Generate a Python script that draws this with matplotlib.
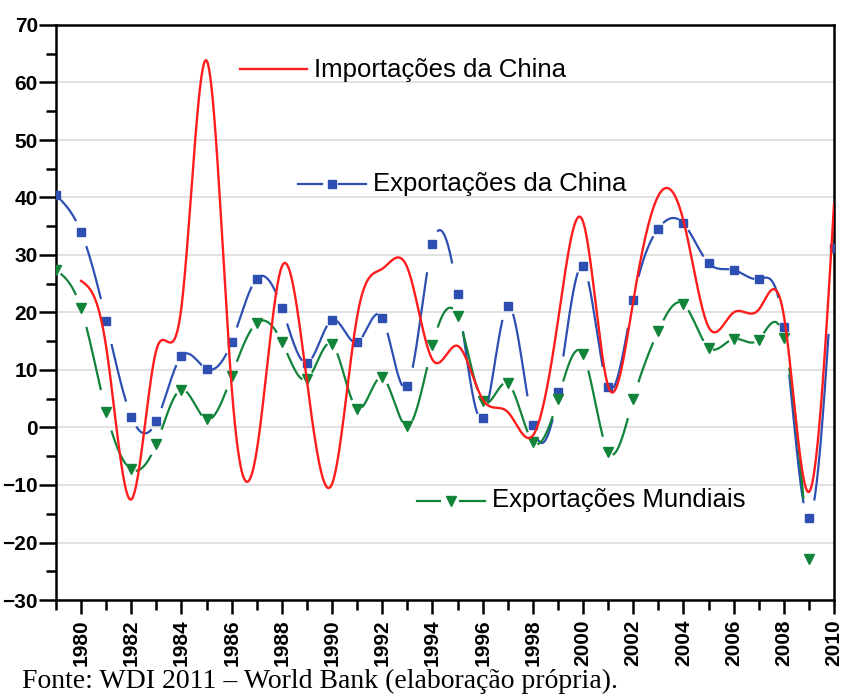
import numpy as np
import matplotlib.pyplot as plt
from matplotlib.ticker import MultipleLocator

years_red = list(range(1980, 2011))
years = list(range(1979, 2011))
years_world = list(range(1979, 2010))

# Importações da China (%)
imp_china = [25.5, 14.0, -12.5, 13.5, 21.0, 63.8, 7.0, -4.0, 28.0, 8.0,
             -9.8, 19.3, 27.6, 27.8, 11.8, 14.2, 4.9, 2.7, -1.4, 18.5,
             35.8, 7.2, 22.0, 40.3, 36.0, 17.5, 20.0, 20.5, 19.5, -11.2, 38.8]
# Exportações da China (%)
exp_china = [40.4, 34.0, 18.5, 1.9, 1.1, 12.4, 10.2, 14.9, 25.9, 20.8,
             11.2, 18.7, 14.8, 19.1, 7.2, 31.9, 23.2, 1.6, 21.1, 0.5,
             6.2, 28.0, 7.1, 22.2, 34.6, 35.5, 28.6, 27.4, 25.8, 17.4, -15.8, 31.3]
# Exportações Mundiais (%)
exp_world = [27.4, 20.7, 2.7, -7.3, -2.8, 6.6, 1.4, 9.0, 18.2, 14.9,
             8.4, 14.5, 3.3, 8.7, 0.2, 14.3, 19.4, 4.6, 7.7, -2.5,
             4.9, 12.7, -4.2, 4.9, 16.8, 21.5, 13.9, 15.4, 15.3, 15.5, -22.9]

RED = "#ff1c1c"
BLUE = "#2d4fb2"
GREEN = "#11843a"


def natural_spline(x, y, xs):
    x = np.asarray(x, float)
    y = np.asarray(y, float)
    n = len(x)
    h = np.diff(x)
    A = np.zeros((n, n))
    b = np.zeros(n)
    A[0, 0] = 1
    A[-1, -1] = 1
    for i in range(1, n - 1):
        A[i, i - 1] = h[i - 1]
        A[i, i] = 2 * (h[i - 1] + h[i])
        A[i, i + 1] = h[i]
        b[i] = 6 * ((y[i + 1] - y[i]) / h[i] - (y[i] - y[i - 1]) / h[i - 1])
    M = np.linalg.solve(A, b)
    idx = np.clip(np.searchsorted(x, xs) - 1, 0, n - 2)
    x0, x1 = x[idx], x[idx + 1]
    hh = x1 - x0
    t0 = x1 - xs
    t1 = xs - x0
    return (M[idx] * t0 ** 3 / (6 * hh) + M[idx + 1] * t1 ** 3 / (6 * hh)
            + (y[idx] / hh - M[idx] * hh / 6) * t0
            + (y[idx + 1] / hh - M[idx + 1] * hh / 6) * t1)


def gapped(x, y, gap=0.22):
    xs_all, ys_all = [], []
    for i in range(len(x) - 1):
        xs = np.linspace(x[i] + gap, x[i + 1] - gap, 40)
        xs_all += list(xs) + [np.nan]
        ys_all += list(natural_spline(x, y, xs)) + [np.nan]
    return xs_all, ys_all


fig = plt.figure(figsize=(8.43, 6.98), dpi=100)
ax = fig.add_axes([56 / 843, 1 - 600 / 698, 778 / 843, 575 / 698])

ax.set_xlim(1979, 2010)
ax.set_ylim(-30, 70)
ax.yaxis.set_major_locator(MultipleLocator(10))
ax.yaxis.set_minor_locator(MultipleLocator(5))
ax.xaxis.set_major_locator(MultipleLocator(2))
ax.xaxis.set_minor_locator(MultipleLocator(1))
ax.grid(axis="y", which="major", color="#dedede", lw=1.3, zorder=0)
ax.set_axisbelow(True)

bx, by = gapped(years, exp_china)
ax.plot(bx, by, color=BLUE, lw=1.6, zorder=2)
ax.plot(years, exp_china, ls="none", marker="s", ms=6, color=BLUE, zorder=3)

gx, gy = gapped(years_world, exp_world)
ax.plot(gx, gy, color=GREEN, lw=1.6, zorder=2)
ax.plot(years_world, exp_world, ls="none", marker="v", ms=7, color=GREEN, zorder=3)

rx = np.linspace(years_red[0], years_red[-1], 1500)
ax.plot(rx, natural_spline(years_red, imp_china, rx), color=RED, lw=1.7, zorder=4)

ax.set_xticks(range(1980, 2011, 2))
ax.set_xticklabels([str(y) for y in range(1980, 2011, 2)], rotation=90)
for lab in ax.get_xticklabels() + ax.get_yticklabels():
    lab.set_fontfamily("Liberation Sans")
    lab.set_fontweight("bold")
    lab.set_fontsize(15)
ax.tick_params(axis="y", which="major", length=12, width=1.8, pad=1)
ax.tick_params(axis="y", which="minor", length=7, width=1.8)
ax.tick_params(axis="x", which="major", length=10, width=1.8, pad=4)
ax.tick_params(axis="x", which="minor", length=7, width=1.8)
for s in ax.spines.values():
    s.set_linewidth(1.8)


def px(xp, yp):
    return (xp - 56) / 778, (600 - yp) / 575


tr = ax.transAxes
# legend labels placed inside the plot
p0, p1 = px(240, 69), px(307, 69)
ax.plot([p0[0], p1[0]], [p0[1], p1[1]], color=RED, lw=1.7, transform=tr, clip_on=False)
t = px(314, 70)
ax.text(t[0], t[1], "Importações da China", transform=tr, fontsize=18.5,
        family="Liberation Sans", va="center", ha="left")

for y0, segs, mk, col, lbl, tx in [
        (183.5, (298, 322, 331.5, 339, 366), "s", BLUE, "Exportações da China", 373),
        (500.5, (417, 440, 450.5, 460, 485), "v", GREEN, "Exportações Mundiais", 492)]:
    a, b_, m, c, d = segs
    for u, v in [(a, b_), (c, d)]:
        q0, q1 = px(u, y0), px(v, y0)
        ax.plot([q0[0], q1[0]], [q0[1], q1[1]], color=col, lw=1.6, transform=tr)
    qm = px(m, y0)
    ax.plot([qm[0]], [qm[1]], marker=mk, ms=6 if mk == "s" else 7, color=col, transform=tr)
    t = px(tx, y0)
    ax.text(t[0], t[1], lbl, transform=tr, fontsize=18.5,
            family="Liberation Sans", va="center", ha="left")

fig.text(22 / 843, 1 - 681 / 698, "Fonte: WDI 2011 – World Bank (elaboração própria).",
         family="Liberation Serif", fontsize=20, va="center", ha="left")

fig.savefig("out.png", dpi=100)
